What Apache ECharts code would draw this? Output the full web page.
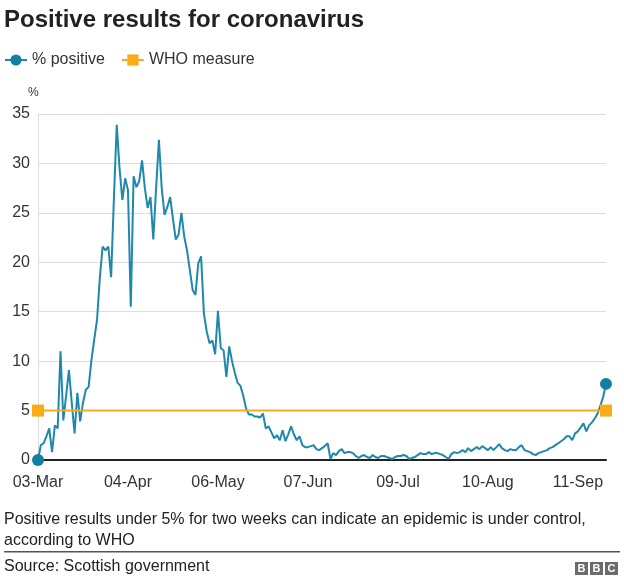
<!DOCTYPE html>
<html>
<head>
<meta charset="utf-8">
<script src="https://cdn.jsdelivr.net/npm/echarts@6/dist/echarts.min.js"></script>
<style>
  html, body { margin: 0; padding: 0; background: #fff; }
  #chart { width: 624px; height: 584px; }
</style>
</head>
<body>
<div id="chart"></div>
<script>
// ---- Data ----
const startDate = [2020, 2, 3]; // 03-Mar-2020, one value per day
const tickLabels = ['03-Mar', '04-Apr', '06-May', '07-Jun', '09-Jul', '10-Aug', '11-Sep'];
const yTicks = [0, 5, 10, 15, 20, 25, 30, 35];

// % positive, days 0..69 (03-Mar .. 11-May)
const positiveMarApr = [
  0, 1.5, 1.7, 2.4, 3.2, 0.8, 3.5, 3.2, 11.0, 4.0,
  6.5, 9.1, 5.8, 2.7, 6.8, 3.9, 5.8, 7.1, 7.4, 10.1,
  12.2, 14.2, 18.5, 21.6, 21.2, 21.6, 18.5, 26.5, 33.9, 29.5,
  26.3, 28.5, 27.3, 15.5, 28.7, 27.6, 28.2, 30.3, 27.5, 25.5,
  26.6, 22.3, 27.5, 32.4, 27.5, 24.8, 25.6, 26.6, 24.4, 22.3,
  22.8, 25.0, 22.6, 21.2, 19.2, 17.2, 16.7, 19.9, 20.6, 14.8,
  13.0, 11.8, 12.1, 10.7, 15.1, 11.3, 11.1, 8.4, 11.5, 10.0
];
// % positive, days 70..135
const positiveMayJul = [
  8.8, 7.8, 7.5, 6.5, 5.2, 4.6, 4.6, 4.4, 4.4, 4.3,
  4.7, 3.2, 3.4, 2.8, 2.2, 2.5, 2.0, 3.0, 1.9, 2.6,
  3.4, 2.6, 2.0, 2.4, 1.5, 1.3, 1.3, 1.4, 1.5, 1.1,
  1.0, 1.2, 1.4, 1.7, 0.1, 0.7, 0.5, 0.9, 1.1, 0.7,
  0.8, 0.8, 0.7, 0.4, 0.2, 0.4, 0.5, 0.3, 0.2, 0.5,
  0.3, 0.2, 0.4, 0.4, 0.3, 0.2, 0.1, 0.3, 0.4, 0.4,
  0.5, 0.4, 0.1, 0.2, 0.3, 0.5
];
// % positive, days 136..202 (17-Jul .. 21-Sep)
const positiveJulSep = [
  0.7, 0.6, 0.6, 0.8, 0.6, 0.7, 0.7, 0.6, 0.5, 0.3,
  0.1, 0.6, 0.8, 0.7, 0.8, 1.0, 0.8, 1.2, 0.9, 1.1,
  1.3, 1.1, 1.4, 1.2, 1.0, 1.3, 1.0, 1.3, 1.6, 1.2,
  1.0, 0.9, 1.1, 1.0, 1.0, 1.3, 1.5, 1.0, 0.9, 0.8,
  0.6, 0.5, 0.7, 0.8, 0.9, 1.0, 1.2, 1.3, 1.5, 1.7,
  1.9, 2.1, 2.4, 2.4, 2.0, 2.7, 2.9, 3.3, 3.7, 2.9,
  3.5, 3.8, 4.2, 4.7, 5.5, 6.4, 7.7
];
// WHO measure: 5% threshold at first and last date
const whoMeasure = [5, 5];

// ---- Build categories / series data ----
const positive = positiveMarApr.concat(positiveMayJul, positiveJulSep);
const monthNames = ['Jan','Feb','Mar','Apr','May','Jun','Jul','Aug','Sep','Oct','Nov','Dec'];
const categories = positive.map((_, i) => {
  const d = new Date(Date.UTC(startDate[0], startDate[1], startDate[2] + i));
  return String(d.getUTCDate()).padStart(2, '0') + '-' + monthNames[d.getUTCMonth()];
});
const lastIdx = positive.length - 1;
const positiveData = positive.map((v, i) =>
  (i === 0 || i === lastIdx) ? { value: v } : { value: v, symbol: 'none' });
const whoData = [[categories[0], whoMeasure[0]], [categories[lastIdx], whoMeasure[1]]];

const BLUE = '#1F88AC';
const BLUE_DOT = '#1380A1';
const ORANGE = '#FAAB18';
const FONT = '"Liberation Sans", Arial, Helvetica, sans-serif';

const chart = echarts.init(document.getElementById('chart'), null, { renderer: 'canvas' });
chart.setOption({
  animation: false,
  backgroundColor: '#ffffff',
  textStyle: { fontFamily: FONT },
  title: {
    text: 'Positive results for coronavirus',
    left: 4, top: 8, padding: 0,
    textStyle: { fontFamily: FONT, fontSize: 24, fontWeight: 'bold', color: '#222222' }
  },
  legend: {
    left: 4, top: 52, padding: 0,
    itemWidth: 22, itemHeight: 14, itemGap: 16,
    textStyle: { fontFamily: FONT, fontSize: 16, color: '#333333' },
    data: ['% positive', 'WHO measure']
  },
  grid: { left: 38, right: 18, top: 114, bottom: 124, containLabel: false },
  xAxis: {
    type: 'category',
    boundaryGap: false,
    data: categories,
    axisLine: { show: true, onZero: true, lineStyle: { color: '#222222', width: 2 } },
    axisTick: { show: false },
    splitLine: { show: false },
    axisLabel: {
      interval: (idx, val) => tickLabels.indexOf(val) >= 0,
      fontFamily: FONT, fontSize: 16, color: '#333333', margin: 15,
      hideOverlap: false
    }
  },
  yAxis: {
    type: 'value',
    min: yTicks[0], max: yTicks[yTicks.length - 1], interval: 5,
    axisLine: { show: true, lineStyle: { color: '#dddddd', width: 1 } },
    axisTick: { show: false },
    splitLine: { show: true, lineStyle: { color: '#dddddd', width: 1 } },
    axisLabel: { fontFamily: FONT, fontSize: 16, color: '#333333', margin: 8 }
  },
  series: [
    {
      name: '% positive',
      type: 'line',
      data: positiveData,
      symbol: 'circle',
      symbolSize: 12,
      showSymbol: true,
      showAllSymbol: true,
      clip: false,
      itemStyle: { color: BLUE_DOT },
      lineStyle: { color: BLUE, width: 2 },
      emphasis: { disabled: true },
      z: 3
    },
    {
      name: 'WHO measure',
      type: 'line',
      data: whoData,
      symbol: 'rect',
      symbolSize: 12,
      showSymbol: true,
      showAllSymbol: true,
      clip: false,
      itemStyle: { color: ORANGE },
      lineStyle: { color: ORANGE, width: 2 },
      emphasis: { disabled: true },
      z: 4
    }
  ],
  graphic: [
    { type: 'text', left: 28, top: 87,
      style: { text: '%', fontFamily: FONT, fontSize: 12, fill: '#333333' } },
    { type: 'text', left: 4, top: 512,
      style: { text: 'Positive results under 5% for two weeks can indicate an epidemic is under control,',
               fontFamily: FONT, fontSize: 16, fill: '#222222' } },
    { type: 'text', left: 4, top: 533,
      style: { text: 'according to WHO', fontFamily: FONT, fontSize: 16, fill: '#222222' } },
    { type: 'rect', shape: { x: 4, y: 551, width: 616, height: 1.5 },
      style: { fill: '#555555' } },
    { type: 'text', left: 4, top: 559,
      style: { text: 'Source: Scottish government', fontFamily: FONT, fontSize: 16, fill: '#222222' } },
    { type: 'rect', shape: { x: 575, y: 562, width: 13, height: 13 }, style: { fill: '#6b6b6b' } },
    { type: 'rect', shape: { x: 590, y: 562, width: 13, height: 13 }, style: { fill: '#6b6b6b' } },
    { type: 'rect', shape: { x: 605, y: 562, width: 13, height: 13 }, style: { fill: '#6b6b6b' } },
    { type: 'text', x: 581.5, y: 569, style: { text: 'B', fontFamily: FONT, fontSize: 11, fontWeight: 'bold', fill: '#ffffff', align: 'center', verticalAlign: 'middle' } },
    { type: 'text', x: 596.5, y: 569, style: { text: 'B', fontFamily: FONT, fontSize: 11, fontWeight: 'bold', fill: '#ffffff', align: 'center', verticalAlign: 'middle' } },
    { type: 'text', x: 611.5, y: 569, style: { text: 'C', fontFamily: FONT, fontSize: 11, fontWeight: 'bold', fill: '#ffffff', align: 'center', verticalAlign: 'middle' } }
  ]
});
</script>
</body>
</html>
